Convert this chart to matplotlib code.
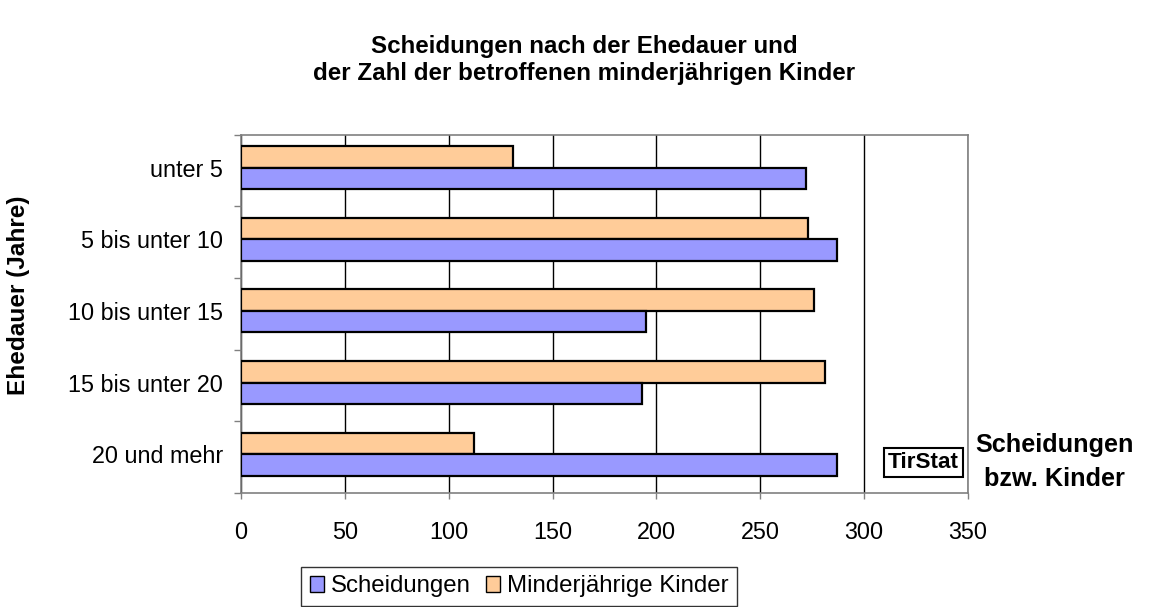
import matplotlib
matplotlib.use("Agg")
import matplotlib.pyplot as plt
from matplotlib.patches import Patch

plt.rcParams['font.family'] = ['Liberation Sans', 'DejaVu Sans']

# categories, top to bottom
kategorien = ['unter 5', '5 bis unter 10', '10 bis unter 15', '15 bis unter 20', '20 und mehr']
scheidungen = [272, 287, 195, 193, 287]
kinder = [131, 273, 276, 281, 112]
x_ticks = [0, 50, 100, 150, 200, 250, 300, 350]

blau = '#9999FF'
orange = '#FFCC99'
grau = '#808080'

fig = plt.figure(figsize=(11.54, 6.07), dpi=100)
ax = fig.add_axes([0.2088, 0.188, 0.6300, 0.590])

pos = list(range(len(kategorien)))
h = 0.3
off = -0.04
ax.barh([p + off - h / 2 for p in pos], kinder, height=h, color=orange,
        edgecolor='black', linewidth=1.6, zorder=3)
ax.barh([p + off + h / 2 for p in pos], scheidungen, height=h, color=blau,
        edgecolor='black', linewidth=1.6, zorder=3)

ax.set_xlim(0, 350)
ax.set_ylim(len(kategorien) - 0.5, -0.5)

# vertical grid lines
ax.set_xticks(x_ticks)
ax.set_xticklabels([str(v) for v in x_ticks])
ax.grid(axis='x', color='black', linewidth=1, zorder=0)
ax.tick_params(axis='x', length=4, width=1, color=grau, pad=16, labelsize=16.8)

# category labels between boundary ticks
ax.set_yticks([p - 0.5 for p in range(len(kategorien) + 1)])
ax.set_yticklabels([])
ax.set_yticks([p + off for p in pos], minor=True)
ax.set_yticklabels(kategorien, minor=True)
ax.tick_params(axis='y', which='major', length=5, width=1, color=grau)
ax.tick_params(axis='y', which='minor', length=0, pad=13, labelsize=16.8)

for s in ax.spines.values():
    s.set_color(grau)
    s.set_linewidth(1.2)

fig.text(0.506, 0.901, 'Scheidungen nach der Ehedauer und\nder Zahl der betroffenen minderjährigen Kinder',
         ha='center', va='center', fontsize=17.4, fontweight='bold', linespacing=1.2)
fig.text(0.016, 0.514, 'Ehedauer (Jahre)', rotation=90, ha='center', va='center',
         fontsize=17.6, fontweight='bold')
fig.text(0.914, 0.239, 'Scheidungen\nbzw. Kinder', ha='center', va='center',
         fontsize=18.2, fontweight='bold', linespacing=1.55)

ax.text(0.9875, 0.084, 'TirStat', transform=ax.transAxes, ha='right', va='center',
        fontsize=16.2, fontweight='bold', zorder=5,
        bbox=dict(boxstyle='square,pad=0.17', facecolor='white', edgecolor='black', linewidth=1.5))

handles = [Patch(facecolor=blau, edgecolor='black', label='Scheidungen'),
           Patch(facecolor=orange, edgecolor='black', label='Minderjährige Kinder')]
leg = fig.legend(handles=handles, loc='upper center', bbox_to_anchor=(0.450, 0.066), ncol=2,
                 fontsize=17.3, frameon=True, fancybox=False, edgecolor='black',
                 handlelength=0.6, handleheight=0.6, handletextpad=0.3, columnspacing=0.6,
                 borderpad=0.35, borderaxespad=0)
leg.get_frame().set_linewidth(1)

fig.savefig('out.png', dpi=100)
